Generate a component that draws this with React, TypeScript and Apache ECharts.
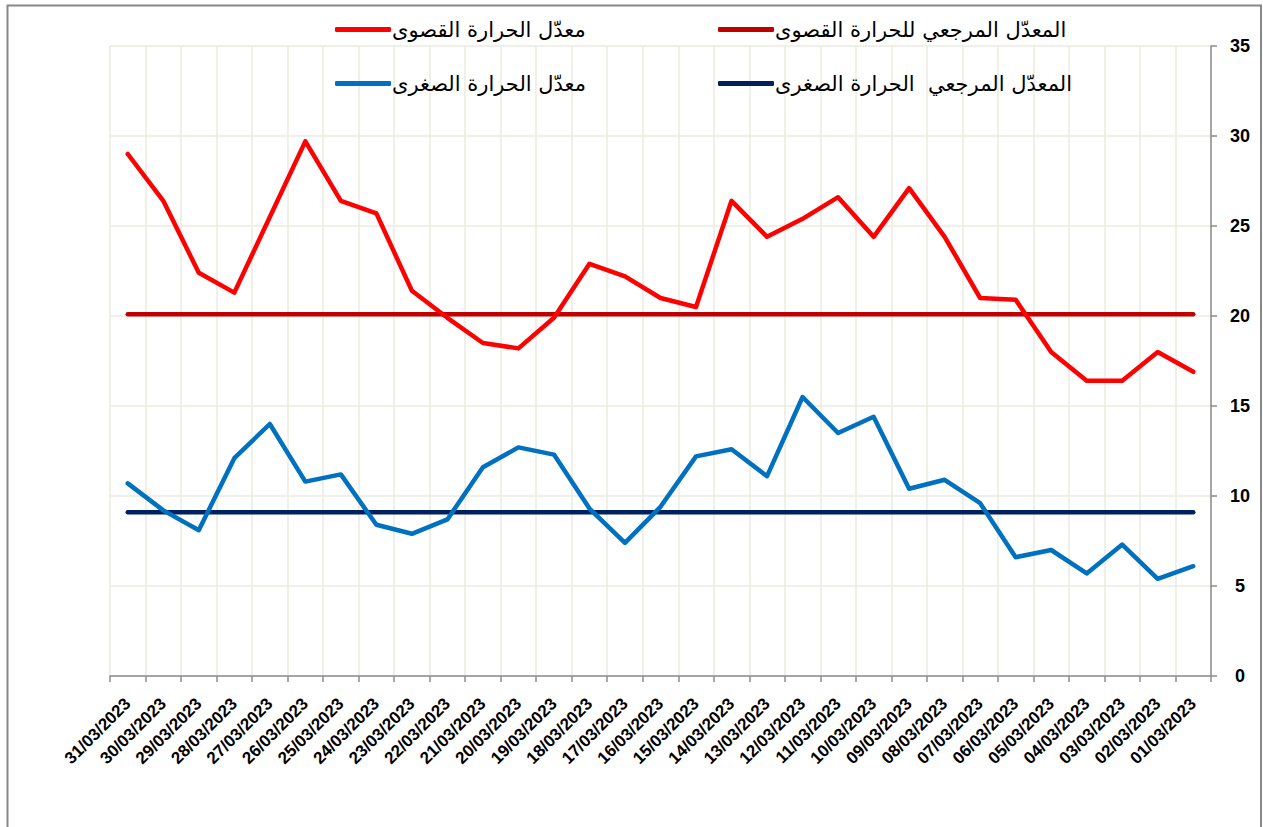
import React, { useEffect, useRef } from "react";
import * as echarts from "echarts";

const DATES = [
  "31/03/2023", "30/03/2023", "29/03/2023", "28/03/2023", "27/03/2023", "26/03/2023",
  "25/03/2023", "24/03/2023", "23/03/2023", "22/03/2023", "21/03/2023", "20/03/2023",
  "19/03/2023", "18/03/2023", "17/03/2023", "16/03/2023", "15/03/2023", "14/03/2023",
  "13/03/2023", "12/03/2023", "11/03/2023", "10/03/2023", "09/03/2023", "08/03/2023",
  "07/03/2023", "06/03/2023", "05/03/2023", "04/03/2023", "03/03/2023", "02/03/2023",
  "01/03/2023",
];

const MAX_TEMP = [
  29.0, 26.4, 22.4, 21.3, 25.5, 29.7, 26.4, 25.7, 21.4, 19.9, 18.5, 18.2, 19.9, 22.9,
  22.2, 21.0, 20.5, 26.4, 24.4, 25.4, 26.6, 24.4, 27.1, 24.4, 21.0, 20.9, 18.0, 16.4,
  16.4, 18.0, 16.9,
];

const MIN_TEMP = [
  10.7, 9.2, 8.1, 12.1, 14.0, 10.8, 11.2, 8.4, 7.9, 8.7, 11.6, 12.7, 12.3, 9.3, 7.4,
  9.4, 12.2, 12.6, 11.1, 15.5, 13.5, 14.4, 10.4, 10.9, 9.6, 6.6, 7.0, 5.7, 7.3, 5.4,
  6.1,
];

const REF_MAX = [
  20.1, 20.1, 20.1, 20.1, 20.1, 20.1, 20.1, 20.1, 20.1, 20.1, 20.1, 20.1, 20.1, 20.1,
  20.1, 20.1, 20.1, 20.1, 20.1, 20.1, 20.1, 20.1, 20.1, 20.1, 20.1, 20.1, 20.1, 20.1,
  20.1, 20.1, 20.1,
];

const REF_MIN = [
  9.1, 9.1, 9.1, 9.1, 9.1, 9.1, 9.1, 9.1, 9.1, 9.1, 9.1, 9.1, 9.1, 9.1, 9.1, 9.1, 9.1,
  9.1, 9.1, 9.1, 9.1, 9.1, 9.1, 9.1, 9.1, 9.1, 9.1, 9.1, 9.1, 9.1, 9.1,
];

const NAME_MAX = "معدّل الحرارة القصوى";
const NAME_MIN = "معدّل الحرارة الصغرى";
const NAME_REF_MAX = "المعدّل المرجعي للحرارة القصوى";
const NAME_REF_MIN = "المعدّل المرجعي  الحرارة الصغرى";

const Y_TICKS = { min: 0, max: 35, interval: 5 };

export default function App() {
  const ref = useRef<HTMLDivElement>(null);

  useEffect(() => {
    if (!ref.current) return;
    const chart = echarts.init(ref.current, undefined, { renderer: "svg" });
    const gridColor = "#EDEBE0";
    const axisColor = "#8C8C8C";
    const legendText = {
      fontSize: 21,
      color: "#000",
      fontFamily: "'DejaVu Sans', Arial, sans-serif",
      padding: [0, 0, 0, -4],
    };
    const mkLegend = (name: string, left: number, top: number) => ({
      data: [name],
      left,
      top,
      icon: "roundRect",
      itemWidth: 56,
      itemHeight: 5,
      itemGap: 0,
      padding: 0,
      textStyle: legendText,
    });
    const mkLine = (name: string, data: number[], color: string, z: number) => ({
      name,
      type: "line",
      data,
      symbol: "none",
      z,
      lineStyle: { color, width: 4.5, cap: "round", join: "round" },
      itemStyle: { color },
    });

    chart.setOption({
      animation: false,
      backgroundColor: "#fff",
      textStyle: { fontFamily: "'Liberation Sans', Arial, sans-serif" },
      graphic: [
        {
          type: "rect",
          shape: { x: 7.5, y: 5.5, width: 1253.5, height: 840 },
          style: { fill: "none", stroke: "#888", lineWidth: 2 },
          silent: true,
          z: 100,
        },
      ],
      legend: [
        mkLegend(NAME_MAX, 335, 19),
        mkLegend(NAME_REF_MAX, 718, 19),
        mkLegend(NAME_MIN, 335, 73),
        mkLegend(NAME_REF_MIN, 718, 73),
      ],
      grid: { left: 110, right: 52, top: 46, bottom: 151, containLabel: false },
      xAxis: {
        type: "category",
        data: DATES,
        boundaryGap: true,
        axisLine: { show: true, lineStyle: { color: axisColor, width: 1.5 } },
        axisTick: { show: true, length: 6, lineStyle: { color: axisColor, width: 1.5 } },
        splitLine: { show: true, lineStyle: { color: gridColor, width: 1.5 } },
        axisLabel: {
          rotate: 45,
          interval: 0,
          hideOverlap: false,
          margin: 25,
          fontSize: 17,
          fontWeight: "bold",
          color: "#000",
          fontFamily: "'Liberation Sans', Arial, sans-serif",
        },
      },
      yAxis: {
        type: "value",
        position: "right",
        min: Y_TICKS.min,
        max: Y_TICKS.max,
        interval: Y_TICKS.interval,
        axisLine: { show: true, lineStyle: { color: axisColor, width: 1.5 } },
        axisTick: { show: true, length: 6, lineStyle: { color: axisColor, width: 1.5 } },
        splitLine: { show: true, lineStyle: { color: gridColor, width: 1.5 } },
        axisLabel: {
          margin: 29,
          align: "center",
          fontSize: 18,
          fontWeight: "bold",
          color: "#000",
          fontFamily: "'Liberation Sans', Arial, sans-serif",
        },
      },
      series: [
        mkLine(NAME_REF_MAX, REF_MAX, "#C00000", 2),
        mkLine(NAME_REF_MIN, REF_MIN, "#002060", 2),
        mkLine(NAME_MAX, MAX_TEMP, "#FF0000", 3),
        mkLine(NAME_MIN, MIN_TEMP, "#0070C0", 3),
      ],
    });
    return () => chart.dispose();
  }, []);

  return (
    <div
      ref={ref}
      style={{ position: "fixed", left: 0, top: 0, width: 1263, height: 827 }}
    />
  );
}
